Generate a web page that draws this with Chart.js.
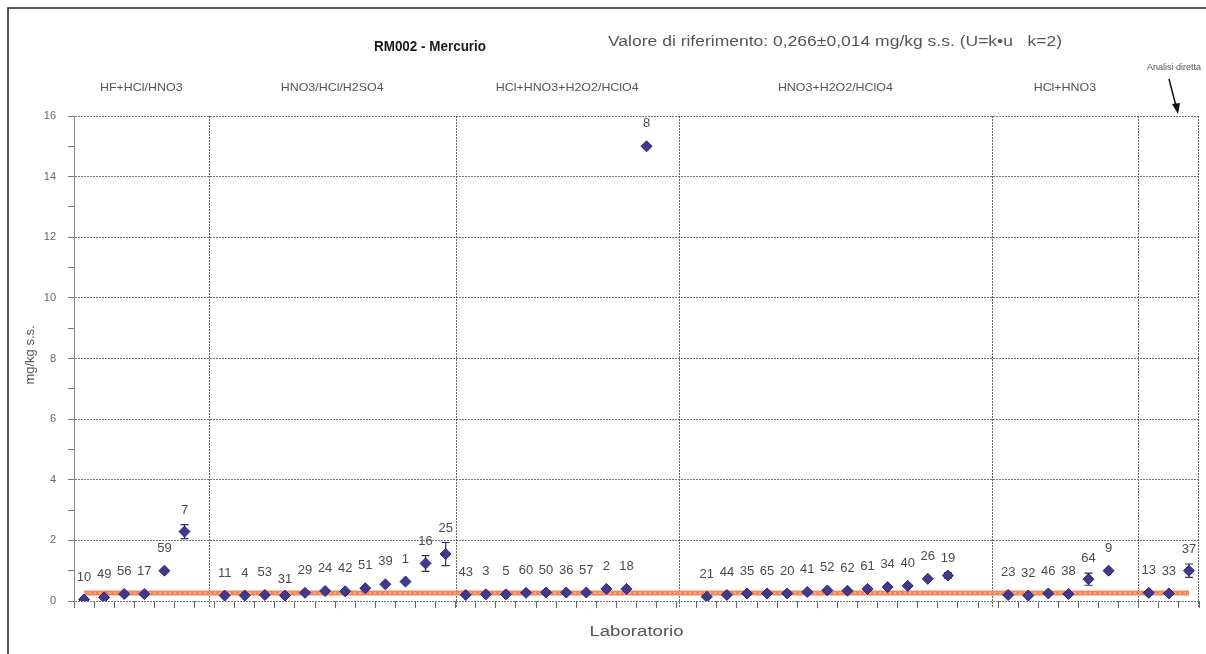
<!DOCTYPE html>
<html>
<head>
<meta charset="utf-8">
<script src="https://cdn.jsdelivr.net/npm/chart.js@4.4.1/dist/chart.umd.min.js"></script>
<style>
  html, body { margin: 0; padding: 0; background: #fff; }
  #wrap { position: relative; width: 1206px; height: 654px; }
</style>
</head>
<body>
<div id="wrap"><canvas id="chart" width="1206" height="654"></canvas></div>
<script>
// Lab codes in plotting order, '' = empty slot between digestion methods
const labCodes = [
  '10', '49', '56', '17', '59', '7', '',
  '11', '4', '53', '31', '29', '24', '42', '51', '39', '1', '16', '25',
  '43', '3', '5', '60', '50', '36', '57', '2', '18', '8', '', '',
  '21', '44', '35', '65', '20', '41', '52', '62', '61', '34', '40', '26', '19', '', '',
  '23', '32', '46', '38', '64', '9', '',
  '13', '33', '37'
];

// Hg results, mg/kg s.s.
const hgValues = [
  0.05, 0.12, 0.23, 0.23, 1.0, 2.29, null,
  0.18, 0.18, 0.2, 0.18, 0.27, 0.33, 0.32, 0.42, 0.55, 0.64, 1.24, 1.55,
  0.2, 0.22, 0.22, 0.27, 0.28, 0.28, 0.28, 0.4, 0.4, 15.0, null, null,
  0.14, 0.2, 0.25, 0.25, 0.25, 0.3, 0.35, 0.34, 0.4, 0.46, 0.5, 0.73, 0.84, null, null,
  0.2, 0.18, 0.25, 0.23, 0.72, 1.0, null,
  0.27, 0.25, 1.0
];

// Declared uncertainty (0 = not reported)
const hgErrors = [
  0, 0, 0, 0, 0, 0.23, 0,
  0, 0, 0, 0.05, 0, 0, 0, 0, 0, 0, 0.26, 0.38,
  0, 0, 0, 0, 0, 0, 0, 0, 0, 0, 0, 0,
  0, 0, 0, 0, 0, 0, 0, 0, 0, 0, 0, 0, 0.09, 0, 0,
  0, 0, 0, 0, 0.2, 0, 0,
  0, 0, 0.22
];

// Digestion method groups and their boundaries (category units)
const groupNames = ['HF+HCl/HNO3', 'HNO3/HCl/H2SO4', 'HCl+HNO3+H2O2/HClO4', 'HNO3+H2O2/HClO4', 'HCl+HNO3', ''];
const groupBounds = [6.2, 18.5, 29.6, 45.2, 52.45];

const refValue = 0.266;
const lastSlot = 55;

const FONT = '"Liberation Sans", Arial, sans-serif';

// text drawn with a horizontal stretch (the captions are wide and narrow-set)
function wideText(ctx, text, x, y, stretch) {
  ctx.save();
  ctx.translate(x, y);
  ctx.scale(stretch, 1);
  ctx.fillText(text, 0, 0);
  ctx.restore();
}

// Frame, titles, group captions, separators
const decorPlugin = {
  id: 'decor',
  beforeDatasetsDraw(chart) {
    const { ctx, chartArea: area, scales: { x, y } } = chart;
    ctx.save();
    // dotted separators + right edge
    ctx.strokeStyle = '#666';
    ctx.lineWidth = 1;
    ctx.setLineDash([2, 1]);
    const edges = groupBounds.map(b => Math.round(x.getPixelForValue(b)) + 0.5);
    edges.concat([Math.round(area.right) - 0.5]).forEach(px => {
      ctx.beginPath();
      ctx.moveTo(px, area.top);
      ctx.lineTo(px, area.bottom + 7);
      ctx.stroke();
    });
    ctx.setLineDash([]);

    // reference value line
    const yr = y.getPixelForValue(refValue);
    const x0 = x.getPixelForValue(0);
    const x1 = x.getPixelForValue(lastSlot);
    ctx.strokeStyle = '#f4865c';
    ctx.lineWidth = 5;
    ctx.beginPath();
    ctx.moveTo(x0, yr);
    ctx.lineTo(x1, yr);
    ctx.stroke();
    ctx.strokeStyle = '#fbb99c';
    ctx.lineWidth = 1.5;
    ctx.setLineDash([2, 3]);
    ctx.beginPath();
    ctx.moveTo(x0, yr);
    ctx.lineTo(x1, yr);
    ctx.stroke();
    ctx.setLineDash([]);

    // error bars
    ctx.strokeStyle = '#2e2a6e';
    ctx.lineWidth = 1.2;
    hgValues.forEach((v, i) => {
      const e = hgErrors[i];
      if (v === null || !e) return;
      const px = x.getPixelForValue(i);
      const hi = y.getPixelForValue(v + e);
      const lo = y.getPixelForValue(v - e);
      ctx.beginPath();
      ctx.moveTo(px, hi); ctx.lineTo(px, lo);
      ctx.moveTo(px - 4, hi); ctx.lineTo(px + 4, hi);
      ctx.moveTo(px - 4, lo); ctx.lineTo(px + 4, lo);
      ctx.stroke();
    });
    ctx.restore();
  },
  afterDraw(chart) {
    const { ctx, chartArea: area, scales: { x, y } } = chart;
    ctx.save();

    // outer frame
    ctx.strokeStyle = '#222';
    ctx.lineWidth = 1.5;
    ctx.beginPath();
    ctx.moveTo(8, chart.height);
    ctx.lineTo(8, 8);
    ctx.lineTo(chart.width, 8);
    ctx.stroke();

    // titles
    ctx.textBaseline = 'middle';
    ctx.textAlign = 'center';
    ctx.fillStyle = '#1a1a1a';
    ctx.font = 'bold 14px ' + FONT;
    wideText(ctx, 'RM002 - Mercurio', 430, 47, 0.96);
    ctx.textAlign = 'left';
    ctx.fillStyle = '#555';
    ctx.font = '14px ' + FONT;
    wideText(ctx, 'Valore di riferimento: 0,266\u00b10,014 mg/kg s.s. (U=k\u2022u   k=2)', 608, 42, 1.25);

    // group captions centred over each section
    ctx.textAlign = 'center';
    ctx.font = '11px ' + FONT;
    ctx.fillStyle = '#555';
    const edges = [area.left].concat(groupBounds.map(b => x.getPixelForValue(b)), [area.right]);
    groupNames.forEach((name, k) => {
      if (!name) return;
      wideText(ctx, name, (edges[k] + edges[k + 1]) / 2, 88, 1.13);
    });
    ctx.font = '9px ' + FONT;
    wideText(ctx, 'Analisi diretta', 1174, 68, 1.0);

    // arrow to the last section
    ctx.strokeStyle = '#111';
    ctx.fillStyle = '#111';
    ctx.lineWidth = 1.5;
    ctx.beginPath();
    ctx.moveTo(1169, 79);
    ctx.lineTo(1176, 106);
    ctx.stroke();
    ctx.beginPath();
    ctx.moveTo(1178, 114);
    ctx.lineTo(1172, 104);
    ctx.lineTo(1180, 103);
    ctx.closePath();
    ctx.fill();

    // axis titles
    ctx.fillStyle = '#555';
    ctx.font = '14px ' + FONT;
    wideText(ctx, 'Laboratorio', (area.left + area.right) / 2, 632, 1.33);
    ctx.save();
    ctx.translate(30, 355);
    ctx.rotate(-Math.PI / 2);
    ctx.font = '13px ' + FONT;
    ctx.fillText('mg/kg s.s.', 0, 0);
    ctx.restore();

    // lab code above each result
    ctx.font = '13px ' + FONT;
    ctx.fillStyle = '#4a4a4a';
    ctx.textBaseline = 'bottom';
    hgValues.forEach((v, i) => {
      if (v === null) return;
      const px = x.getPixelForValue(i);
      const e = hgErrors[i];
      const top = e ? y.getPixelForValue(v + e) - 8 : y.getPixelForValue(v) - 16;
      ctx.fillText(labCodes[i], px, top);
    });
    ctx.restore();
  }
};

const ctx = document.getElementById('chart').getContext('2d');
new Chart(ctx, {
  type: 'line',
  data: {
    labels: labCodes,
    datasets: [{
      label: 'Hg',
      data: hgValues,
      showLine: false,
      pointStyle: 'rectRot',
      pointRadius: 5.5,
      backgroundColor: '#40398e',
      borderColor: '#2b2670',
      borderWidth: 1
    }]
  },
  options: {
    responsive: false,
    animation: false,
    layout: { padding: { top: 116, left: 0, right: 7, bottom: 46 } },
    plugins: {
      legend: { display: false },
      tooltip: { enabled: false }
    },
    scales: {
      x: {
        type: 'category',
        offset: true,
        afterFit(scale) { scale.height = 7; },
        grid: {
          offset: true,
          drawOnChartArea: false,
          tickLength: 7,
          tickColor: '#666'
        },
        border: { display: false },
        ticks: { callback: () => '', autoSkip: false, maxRotation: 0 }
      },
      y: {
        min: 0,
        max: 16,
        afterFit(scale) { scale.width = 74; },
        ticks: {
          stepSize: 0.5,
          padding: 12,
          color: '#666',
          font: { family: FONT, size: 11 },
          callback: v => (v % 2 === 0 ? v : '')
        },
        grid: {
          color: c => (c.tick && c.tick.value % 2 === 0 ? '#777' : 'rgba(0,0,0,0)'),
          tickColor: '#777',
          tickLength: 6,
          lineWidth: 1
        },
        border: { display: true, color: '#888', dash: [2, 1] }
      }
    }
  },
  plugins: [decorPlugin]
});
</script>
</body>
</html>
